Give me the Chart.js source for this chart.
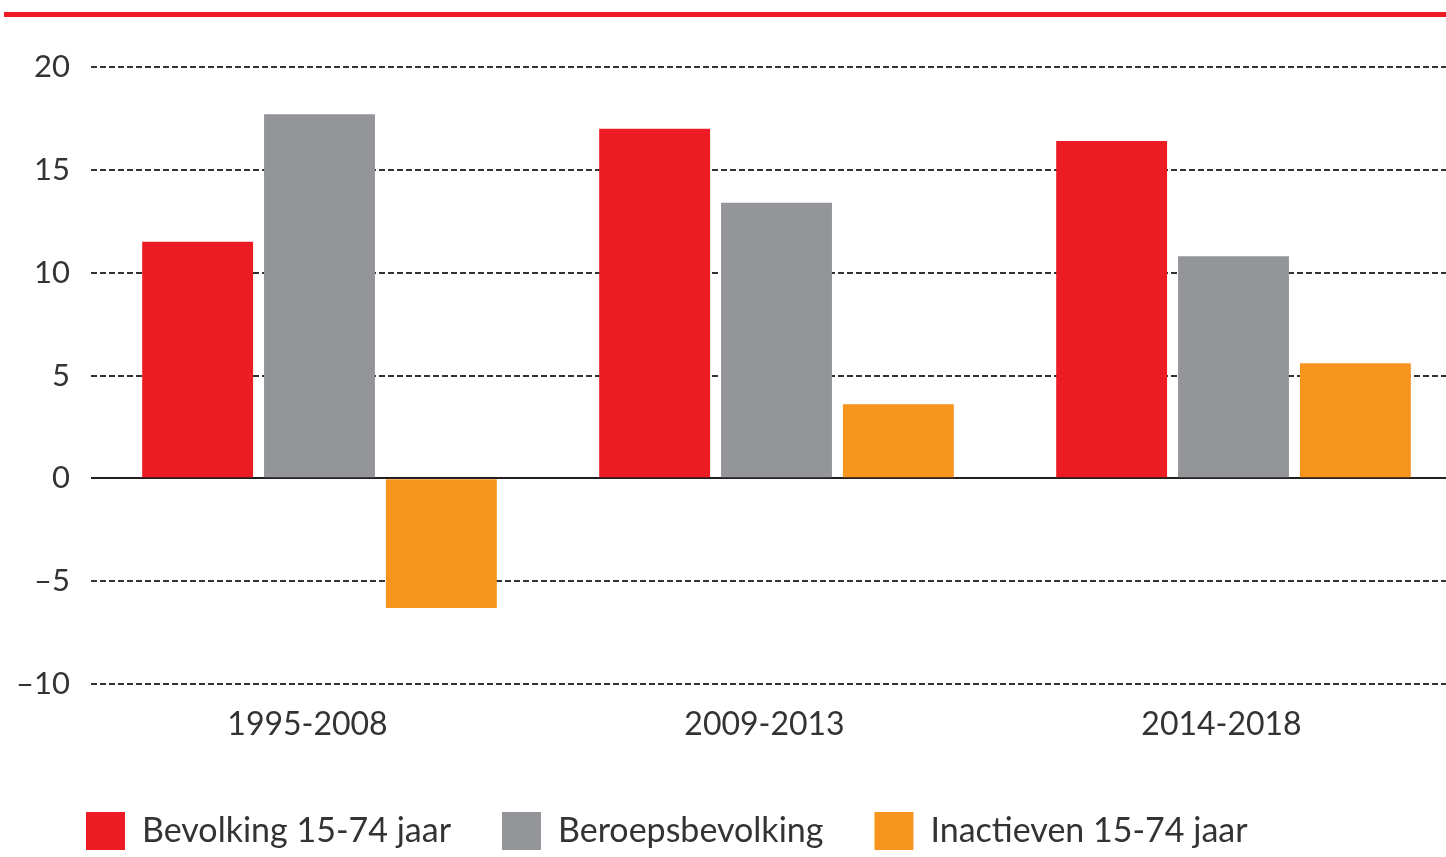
<!DOCTYPE html>
<html>
<head>
<meta charset="utf-8">
<script src="https://cdn.jsdelivr.net/npm/chart.js@4"></script>
<style>
  html, body { margin: 0; padding: 0; overflow: hidden; background: #fff; }
  #wrap { position: relative; width: 1446px; height: 857px; overflow: hidden; }
  #topline { position: absolute; left: 4px; top: 12px; width: 1442px; height: 5px; background: #ED1C24; }
  #myChart { position: absolute; left: 0; top: 0; }
</style>
</head>
<body>
<div id="wrap">
  <div id="topline"></div>
  <canvas id="myChart" width="1462" height="857"></canvas>
</div>
<script>
var categories = ['1995-2008', '2009-2013', '2014-2018'];
var seriesNames = ['Bevolking 15-74 jaar', 'Beroepsbevolking', 'Inactieven 15-74 jaar'];
var bevolking = [11.5, 17.0, 16.4];
var beroepsbevolking = [17.7, 13.4, 10.8];
var inactieven = [-6.3, 3.6, 5.6];
var yTicks = [-10, -5, 0, 5, 10, 15, 20];

var colors = ['#ED1C24', '#939598', '#F7941D'];

Chart.defaults.font.family = 'Lato';
Chart.defaults.color = '#333';

// shift the legend to the right without moving the y axis
var legendShift = {
  id: 'legendShift',
  afterLayout: function(chart) {
    if (chart.legend) chart.legend.left = 35;
  }
};

var ctx = document.getElementById('myChart').getContext('2d');

var chart = new Chart(ctx, {
  type: 'bar',
  data: {
    labels: categories,
    datasets: [
      { label: seriesNames[0], data: bevolking, backgroundColor: colors[0] },
      { label: seriesNames[1], data: beroepsbevolking, backgroundColor: colors[1] },
      { label: seriesNames[2], data: inactieven, backgroundColor: colors[2] }
    ]
  },
  plugins: [legendShift],
  options: {
    responsive: false,
    animation: false,
    barPercentage: 0.91,
    categoryPercentage: 0.8,
    layout: { padding: { top: 67, left: 0, right: 0, bottom: 0 } },
    plugins: {
      tooltip: { enabled: false },
      legend: {
        position: 'bottom',
        align: 'start',
        maxHeight: 96,
        labels: {
          boxWidth: 39,
          boxHeight: 38,
          padding: 51,
          color: '#333',
          font: { size: 34 }
        }
      }
    },
    scales: {
      x: {
        grid: { display: false, drawTicks: false },
        border: { display: false },
        ticks: {
          padding: 21,
          labelOffset: -12,
          color: '#333',
          font: { size: 32 }
        },
        afterFit: function(scale) { scale.height = 77; }
      },
      y: {
        min: yTicks[0],
        max: yTicks[yTicks.length - 1],
        afterBuildTicks: function(scale) {
          scale.ticks = yTicks.map(v => ({ value: v }));
        },
        grid: {
          drawTicks: false,
          lineWidth: 2,
          color: function(c) { return c.tick && c.tick.value === 0 ? '#231f20' : '#333'; }
        },
        border: {
          display: false,
          dash: function(c) { return c.tick && c.tick.value === 0 ? [] : [6, 3]; }
        },
        ticks: {
          padding: 21,
          color: '#333',
          font: { size: 31 },
          callback: function(v) { return v < 0 ? '\u2013' + Math.abs(v) : '' + v; }
        },
        afterFit: function(scale) { scale.width = 91; }
      }
    }
  }
});
</script>
</body>
</html>
